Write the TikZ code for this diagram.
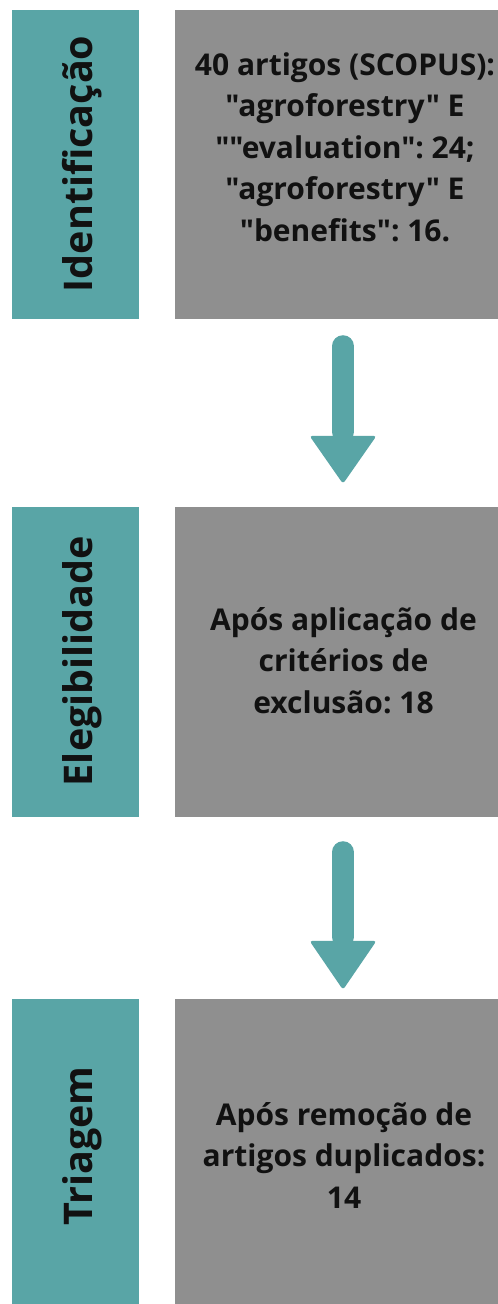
\documentclass[tikz,border=0pt]{standalone}
\usepackage{fontspec}
\setmainfont{Open Sans}[Ligatures=TeXOff]
\usetikzlibrary{calc}
\definecolor{tealc}{HTML}{59A5A6}
\definecolor{grayc}{HTML}{8F8F8F}
\definecolor{txtc}{HTML}{111111}
\tikzset{
  phasebox/.style={rectangle, fill=tealc, draw=none, inner sep=0pt, minimum width=127pt, minimum height=309pt},
  infobox/.style={rectangle, fill=grayc, draw=none, inner sep=0pt, minimum width=336pt, minimum height=309pt},
  phasetext/.style={rotate=90, anchor=base, inner sep=0pt, text=txtc, font=\fontsize{39.5}{44}\selectfont\bfseries},
  infotext/.style={anchor=base, inner sep=0pt, align=center, text=txtc, font=\fontsize{30}{41.5}\selectfont\bfseries\frenchspacing},
  arrowshaft/.style={draw=tealc, line width=22pt, line cap=round},
  arrowhead/.style={fill=tealc, rounded corners=3pt}
}
\begin{document}
\begin{tikzpicture}[x=1pt,y=-1pt]
\useasboundingbox[fill=white] (0,0) rectangle (498,1304);
% row 1
\node[phasebox] (p1) at (75.5,164.5) {};
\node[infobox] (g1) at (343,164.5) {};
\node[phasetext] (t1) at (92,164) {Identificação};
\node[infotext] (i1) at (345,241) {40 artigos (SCOPUS):\\"agroforestry" E\\""evaluation": 24;\\"agroforestry" E\\"benefits": 16.};
% row 2
\node[phasebox, minimum height=310pt] (p2) at (75.5,662) {};
\node[infobox, minimum height=310pt] (g2) at (343,662) {};
\node[phasetext] (t2) at (92,661) {Elegibilidade};
\node[infotext] (i2) at (343.5,713) {Após aplicação de\\critérios de\\exclusão: 18};
% row 3
\node[phasebox, minimum height=310pt] (p3) at (75.5,1154) {};
\node[infobox, minimum height=310pt] (g3) at (343,1154) {};
\node[phasetext] (t3) at (92,1146) {Triagem};
\node[infotext] (i3) at (344,1208) {Após remoção de\\artigos duplicados:\\14};
% arrow 1
\draw[arrowshaft] ($(g1.south)+(0,27)$) -- ($(g2.north)+(0,-75)$);
\fill[arrowhead] ($(g2.north)+(-33.5,-71)$) -- ($(g2.north)+(33.5,-71)$) -- ($(g2.north)+(0,-23)$) -- cycle;
% arrow 2
\draw[arrowshaft] ($(g2.south)+(0,35)$) -- ($(g3.north)+(0,-62)$);
\fill[arrowhead] ($(g3.north)+(-33.5,-58)$) -- ($(g3.north)+(33.5,-58)$) -- ($(g3.north)+(0,-9)$) -- cycle;
\end{tikzpicture}
\end{document}
